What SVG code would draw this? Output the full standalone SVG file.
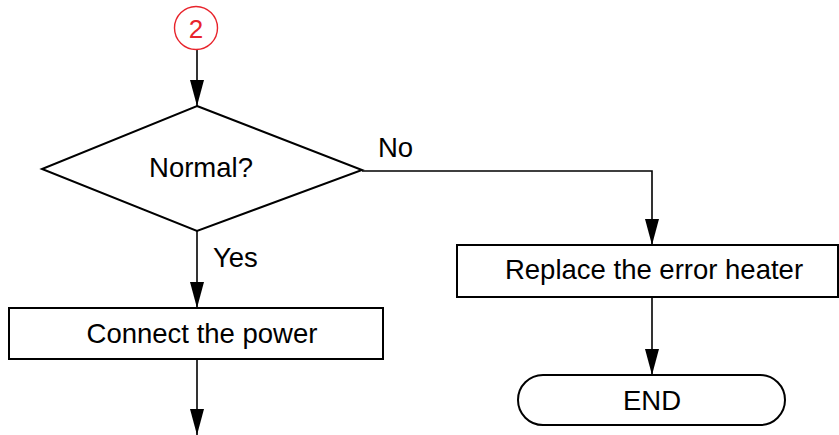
<svg xmlns="http://www.w3.org/2000/svg" width="839" height="435" viewBox="0 0 839 435">
<style>
.shape{fill:#fff;stroke:#000;stroke-width:2}
.line{fill:none;stroke:#000;stroke-width:1.6}
.t{font-family:"Liberation Sans",Arial,sans-serif;font-size:27.5px;fill:#000}
.c{text-anchor:middle}
</style>
<defs>
<marker id="ah" markerUnits="userSpaceOnUse" markerWidth="26" markerHeight="14" refX="26" refY="7" orient="auto">
<path d="M0,0 L26,7 L0,14 z" fill="#000"/>
</marker>
</defs>
<g id="connectors">
<line class="line" x1="197" y1="50" x2="197" y2="106" marker-end="url(#ah)"/>
<line class="line" x1="197" y1="231" x2="197" y2="308" marker-end="url(#ah)"/>
<polyline class="line" points="362,171 652,171 652,245" marker-end="url(#ah)"/>
<line class="line" x1="652" y1="297" x2="652" y2="375" marker-end="url(#ah)"/>
<line class="line" x1="197" y1="359" x2="197" y2="435" marker-end="url(#ah)"/>
<text class="t" x="378" y="157">No</text>
<text class="t" x="213" y="267">Yes</text>
</g>
<g id="connector-2">
<circle cx="196" cy="28" r="21.5" fill="#fff" stroke="#e8242c" stroke-width="1.4"/>
<text class="t c" x="196" y="37.5" style="fill:#e8242c;font-size:26px">2</text>
</g>
<g id="decision-normal">
<polygon class="shape" points="197,106 362,170 197,231 42,169"/>
<text class="t c" x="201" y="177">Normal?</text>
</g>
<g id="connect-power">
<rect class="shape" x="9" y="308" width="374" height="51"/>
<text class="t c" x="202" y="343">Connect the power</text>
</g>
<g id="replace-heater">
<rect class="shape" x="457" y="245" width="381" height="52"/>
<text class="t c" x="654" y="279">Replace the error heater</text>
</g>
<g id="end">
<rect class="shape" x="518" y="375" width="267" height="50" rx="25" ry="25"/>
<text class="t c" x="652" y="410">END</text>
</g>
</svg>
